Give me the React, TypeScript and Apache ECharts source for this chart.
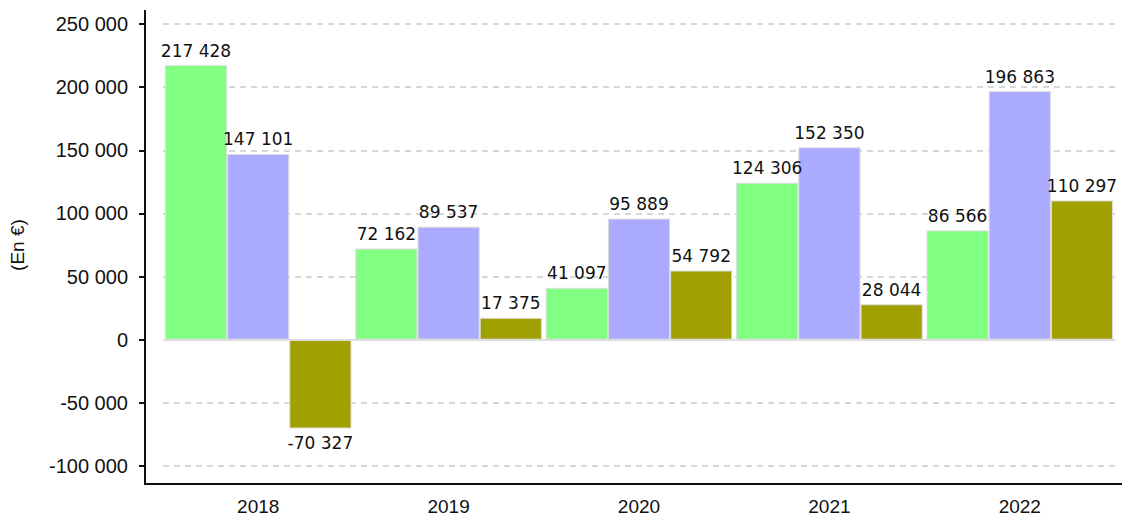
import React, { useEffect, useRef } from "react";
import * as echarts from "echarts";

const categories = ["2018", "2019", "2020", "2021", "2022"];
const seriesA = [217428, 72162, 41097, 124306, 86566];
const seriesB = [147101, 89537, 95889, 152350, 196863];
const seriesC = [-70327, 17375, 54792, 28044, 110297];
const seriesNames = ["Série 1", "Série 2", "Série 3"];
const seriesColors = ["#80ff80", "#aaaaff", "#a0a000"];
const yMin = -100000;
const yMax = 250000;
const yStep = 50000;

const fmt = (v: number) => {
  const s = Math.abs(v).toString().replace(/\B(?=(\d{3})+(?!\d))/g, " ");
  return (v < 0 ? "-" : "") + s;
};

export default function App() {
  const ref = useRef<HTMLDivElement>(null);
  useEffect(() => {
    if (!ref.current) return;
    const chart = echarts.init(ref.current, undefined, { renderer: "svg" });
    const values = [seriesA, seriesB, seriesC];
    chart.setOption({
      animation: false,
      backgroundColor: "#ffffff",
      grid: { left: 163, right: 7, top: 24, bottom: 50 },
      xAxis: {
        type: "category",
        data: categories,
        offset: 18,
        axisLine: { show: false },
        axisTick: { show: false },
        axisLabel: {
          margin: 13,
          fontFamily: "Liberation Sans",
          fontSize: 19,
          color: "#111",
        },
      },
      yAxis: {
        type: "value",
        min: yMin,
        max: yMax,
        interval: yStep,
        offset: 18,
        name: "(En €)",
        nameLocation: "middle",
        nameGap: 118,
        nameTextStyle: { fontFamily: "Liberation Sans", fontSize: 19, color: "#111" },
        axisLine: { show: false },
        axisTick: { show: true, length: 6, lineStyle: { color: "#111", width: 2 } },
        axisLabel: {
          margin: 17,
          fontFamily: "Liberation Sans",
          fontSize: 20,
          color: "#111",
          formatter: (v: number) => fmt(v),
        },
        splitLine: { show: true, lineStyle: { color: "#cccccc", type: [6, 5], width: 1.5 } },
      },
      series: values.map((d, i) => ({
        type: "bar",
        name: seriesNames[i],
        data: d.map((v) =>
          v < 0 ? { value: v, label: { position: "bottom" } } : { value: v }
        ),
        barGap: "0%",
        barCategoryGap: "2%",
        itemStyle: { color: seriesColors[i], borderColor: "#dddddd", borderWidth: 1 },
        label: {
          show: true,
          position: "top",
          distance: 6,
          fontFamily: "DejaVu Sans",
          fontSize: 17,
          color: "#111",
          formatter: (p: any) => fmt(p.value),
        },
        markLine:
          i === 0
            ? {
                silent: true,
                symbol: "none",
                label: { show: false },
                lineStyle: { color: "#dddddd", type: "solid", width: 2 },
                data: [{ yAxis: 0 }],
              }
            : undefined,
      })),
      graphic: [
        {
          type: "line",
          shape: { x1: 145, y1: 10, x2: 145, y2: 485 },
          style: { stroke: "#111", lineWidth: 2 },
        },
        {
          type: "line",
          shape: { x1: 144, y1: 484, x2: 1122, y2: 484 },
          style: { stroke: "#111", lineWidth: 2 },
        },
      ],
    });
    return () => chart.dispose();
  }, []);
  return (
    <div
      ref={ref}
      style={{ position: "fixed", left: 0, top: 0, width: 1122, height: 516 }}
    />
  );
}
